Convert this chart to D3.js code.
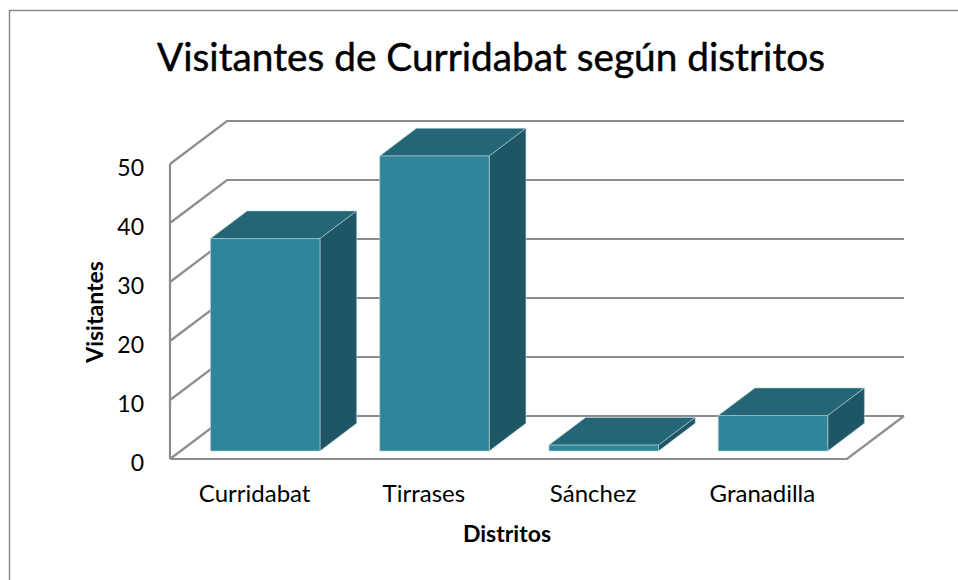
<!DOCTYPE html>
<html>
<head>
<meta charset="utf-8">
<script src="https://cdn.jsdelivr.net/npm/d3@7"></script>
<style>
  body { margin: 0; background: #fff; }
</style>
</head>
<body>
<div id="chart"></div>
<script>
// data
const categories = ["Curridabat", "Tirrases", "Sánchez", "Granadilla"];
const visitantes = [36, 50, 1, 6];
const yTicks = [0, 10, 20, 30, 40, 50];

const titleText = "Visitantes de Curridabat según distritos";
const xTitle = "Distritos";
const yTitle = "Visitantes";

// state
const attrs = {
    svgWidth: 958,
    svgHeight: 580,
    plotLeft: 170,
    plotRight: 847,
    plotTop: 164,
    plotBottom: 459,
    depthX: 57,      // oblique projection of the full depth
    depthY: -43,
    barFront: 0.186, // bar depth position as fraction of full depth
    barBack: 0.83,
    gridColor: "#8c8c8c",
    frontFill: "#2f8599",
    topFill: "#246676",
    sideFill: "#1f5666",
    font: "Lato, 'Open Sans', sans-serif"
};

const svg = d3.select("#chart")
    .append("svg")
    .attr("width", attrs.svgWidth)
    .attr("height", attrs.svgHeight)
    .attr("font-family", attrs.font);

// chart area border (cut off at the right and bottom like the source image)
svg.append("rect")
    .attr("x", 9.5)
    .attr("y", 10.5)
    .attr("width", 1200)
    .attr("height", 1200)
    .attr("fill", "#fff")
    .attr("stroke", "#8a8a8a")
    .attr("stroke-width", 1.5);

const x = d3.scaleBand()
    .domain(categories)
    .range([attrs.plotLeft, attrs.plotRight])
    .paddingInner(0.353)
    .paddingOuter(0.1765);

const y = d3.scaleLinear()
    .domain([0, 50])
    .range([attrs.plotBottom, attrs.plotTop]);

// shift a front-plane point to a given depth
const dpt = (px, py, d) => [px + attrs.depthX * d, py + attrs.depthY * d];
const poly = pts => "M" + pts.map(p => p.join(",")).join("L") + "Z";
const line = pts => "M" + pts.map(p => p.join(",")).join("L");

const walls = svg.append("g")
    .attr("fill", "none")
    .attr("stroke", attrs.gridColor)
    .attr("stroke-width", 2.2);

// back wall gridlines + side wall diagonals
walls.selectAll(".grid")
    .data(yTicks)
    .join("path")
    .attr("class", "grid")
    .attr("d", v => line([
        [attrs.plotLeft, y(v)],
        dpt(attrs.plotLeft, y(v), 1),
        dpt(attrs.plotRight, y(v), 1)
    ]));

// side wall front edge
walls.append("path")
    .attr("d", line([[attrs.plotLeft, y(50)], [attrs.plotLeft, y(0)]]));

// floor
walls.append("path")
    .attr("d", line([
        [attrs.plotLeft, y(0)],
        [attrs.plotRight, y(0)],
        dpt(attrs.plotRight, y(0), 1)
    ]));

// bars
const bars = svg.append("g")
    .selectAll(".bar")
    .data(categories.map((c, i) => ({ cat: c, value: visitantes[i] })))
    .join("g")
    .attr("class", "bar")
    .attr("stroke", "#b9d3da")
    .attr("stroke-width", 0.6)
    .attr("stroke-linejoin", "round");

bars.each(function (d) {
    const g = d3.select(this);
    const x0 = x(d.cat), x1 = x(d.cat) + x.bandwidth();
    const y0 = y(0), y1 = y(d.value);
    const f = attrs.barFront, b = attrs.barBack;

    g.append("path") // top
        .attr("fill", attrs.topFill)
        .attr("d", poly([dpt(x0, y1, f), dpt(x1, y1, f), dpt(x1, y1, b), dpt(x0, y1, b)]));
    g.append("path") // right side
        .attr("fill", attrs.sideFill)
        .attr("d", poly([dpt(x1, y1, f), dpt(x1, y0, f), dpt(x1, y0, b), dpt(x1, y1, b)]));
    g.append("path") // front
        .attr("fill", attrs.frontFill)
        .attr("d", poly([dpt(x0, y1, f), dpt(x1, y1, f), dpt(x1, y0, f), dpt(x0, y0, f)]));
});

// y axis labels
const yAxis = svg.append("g")
    .attr("transform", `translate(${attrs.plotLeft},4)`)
    .call(d3.axisLeft(y).tickValues(yTicks).tickSize(0).tickPadding(26).tickFormat(d3.format("d")));
yAxis.select(".domain").remove();
yAxis.selectAll("text")
    .attr("font-family", attrs.font)
    .attr("font-size", 23)
    .attr("fill", "#000");

// x axis labels
const xAxis = svg.append("g")
    .attr("transform", `translate(0,${attrs.plotBottom})`)
    .call(d3.axisBottom(x).tickSize(0));
xAxis.select(".domain").remove();
xAxis.selectAll("text")
    .attr("font-family", attrs.font)
    .attr("font-size", 24)
    .attr("fill", "#000")
    .attr("y", 43)
    .attr("dy", 0);

// titles
svg.append("text")
    .attr("x", 491)
    .attr("y", 71)
    .attr("text-anchor", "middle")
    .attr("font-size", 38)
    .attr("stroke", "#000")
    .attr("stroke-width", 0.45)
    .attr("textLength", 668)
    .attr("lengthAdjust", "spacingAndGlyphs")
    .text(titleText);

svg.append("text")
    .attr("x", 507)
    .attr("y", 542)
    .attr("text-anchor", "middle")
    .attr("font-size", 23)
    .attr("font-weight", "bold")
    .text(xTitle);

svg.append("text")
    .attr("transform", "translate(103,312) rotate(-90)")
    .attr("text-anchor", "middle")
    .attr("font-size", 23)
    .attr("font-weight", "bold")
    .text(yTitle);
</script>
</body>
</html>
